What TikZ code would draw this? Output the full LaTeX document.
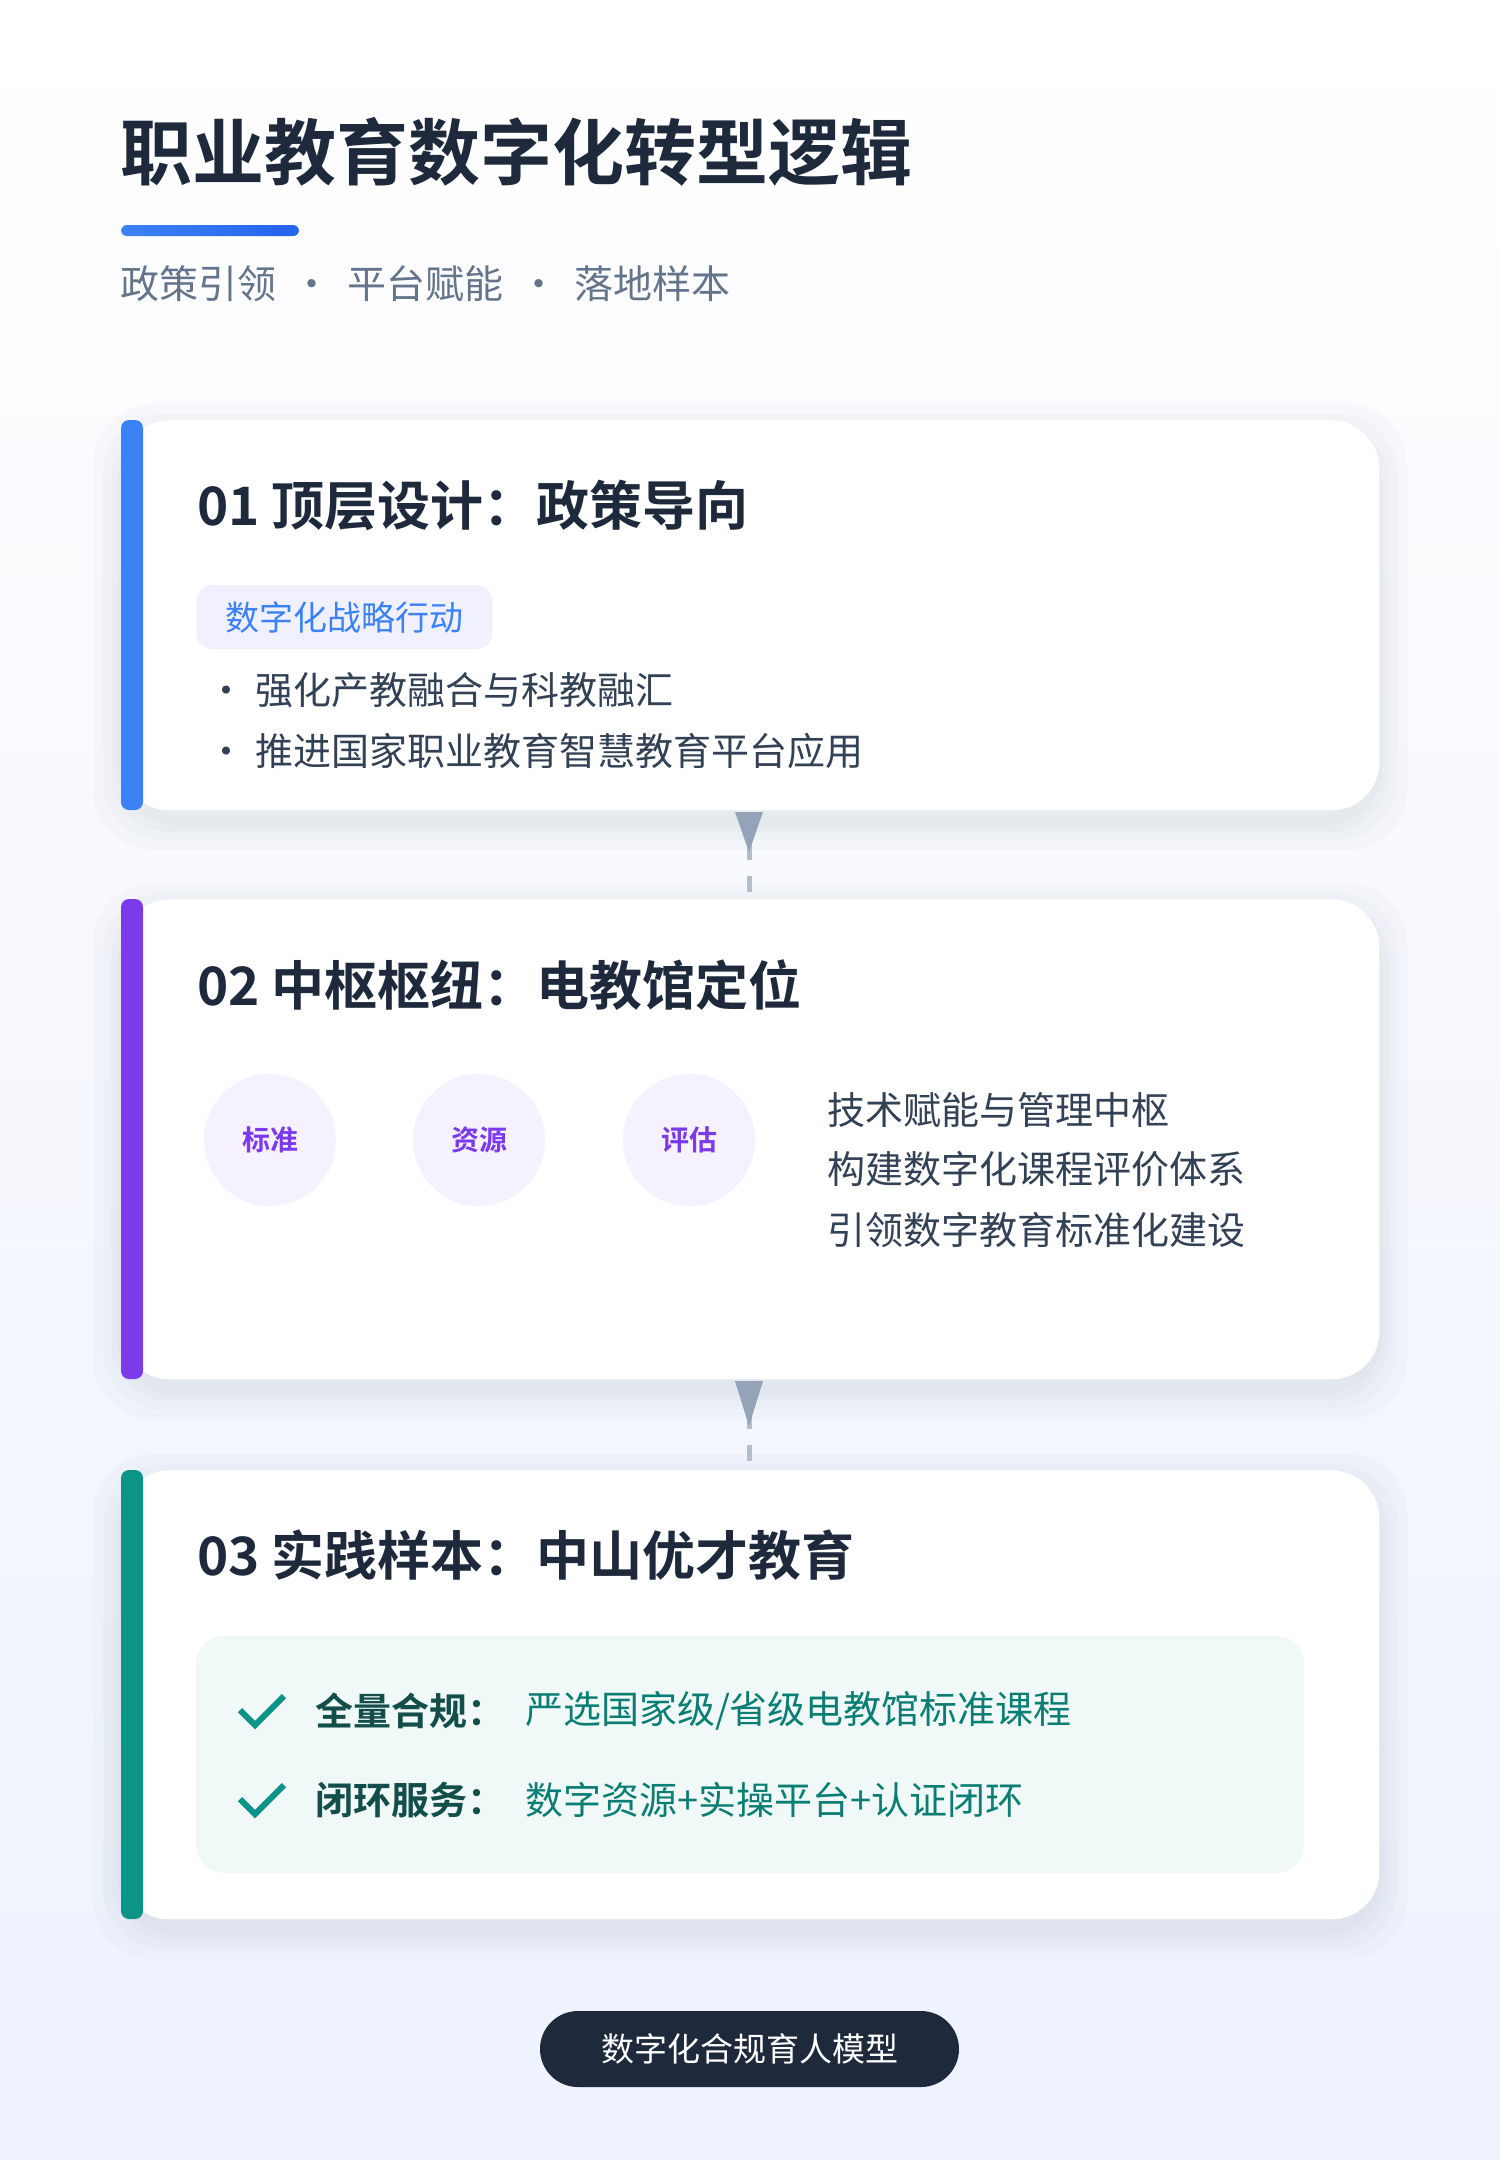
\documentclass[tikz,border=0pt]{standalone}
\usepackage{fontspec}
\setmainfont{Noto Sans CJK SC}
\newfontfamily\cjkb{Noto Sans CJK SC Bold}
\definecolor{ink}{HTML}{1E293B}
\definecolor{gray1}{HTML}{64748B}
\definecolor{txt}{HTML}{334155}
\definecolor{blue1}{HTML}{3B82F6}
\definecolor{blue2}{HTML}{2563EB}
\definecolor{purp}{HTML}{7C3AED}
\definecolor{teal1}{HTML}{0D9488}
\definecolor{tealdk}{HTML}{134E4A}
\definecolor{arr}{HTML}{94A3B8}
\definecolor{bgb}{HTML}{EEF2FD}
\tikzset{
 card/.style={fill=white,rounded corners=24pt},
 shd/.style={fill=ink,opacity=0.018},
 ctitle/.style={anchor=west,font=\cjkb\fontsize{26.5}{30}\selectfont,text=ink},
 body/.style={anchor=west,font=\fontsize{19}{22}\selectfont,text=txt},
 circ/.style={circle,fill=purp!7,minimum size=66pt,font=\cjkb\fontsize{14}{16}\selectfont,text=purp},
}
\begin{document}
\begin{tikzpicture}[x=0.5pt,y=-0.5pt]
\shade[top color=white,bottom color=bgb] (0,0) rectangle (1500,2160);
\useasboundingbox (0,0) rectangle (1500,2160);
% title
\node[anchor=west,font=\cjkb\fontsize{36}{40}\selectfont,text=ink] (title) at (113,152) {职业教育数字化转型逻辑};
\shade[left color=blue1,right color=blue2,rounded corners=3pt] (121,225) rectangle (299,236);
\node[anchor=west,font=\fontsize{19.5}{22}\selectfont,text=gray1] (sub) at (113,284) {政策引领\hspace{8pt}·\hspace{8pt}平台赋能\hspace{8pt}·\hspace{8pt}落地样本};
% shadows
\foreach \t/\b in {420/810,899/1379,1470/1919}{
  \foreach \d in {4,10,18,28}{
    \fill[shd,rounded corners=30pt] (121-\d,\t-\d+12) rectangle (1379+\d,\b+\d+12);
  }
}
% card 1
\node[card,minimum width=629pt,minimum height=195pt,anchor=north west] (c1) at (121,420) {};
\fill[blue1,rounded corners=4pt] (121,420) rectangle (143,810);
\node[ctitle] (t1) at (190,505) {01 顶层设计：政策导向};
\node[fill=blue!6,rounded corners=8pt,minimum width=148pt,minimum height=32pt,font=\fontsize{17}{20}\selectfont,text=blue1] (tag) at (344.5,617) {数字化战略行动};
\node[body] (b1) at (200,690) {•\hspace{5pt}强化产教融合与科教融汇};
\node[body] (b2) at (200,751) {•\hspace{5pt}推进国家职业教育智慧教育平台应用};
% arrow 1
\coordinate (a1) at (749,812);
\coordinate (a1e) at (749,899);
\draw[arr!70,line width=2.5pt,dash pattern=on 8pt off 8pt] (a1) -- (a1e);
\fill[arr] (735,812) -- (763,812) -- (749,852) -- cycle;
% card 2
\node[card,minimum width=629pt,minimum height=240pt,anchor=north west] (c2) at (121,899) {};
\fill[purp,rounded corners=4pt] (121,899) rectangle (143,1379);
\node[ctitle] (t2) at (190,985) {02 中枢枢纽：电教馆定位};
\node[circ] (k1) at (270,1140) {标准};
\node[circ] (k2) at (479,1140) {资源};
\node[circ] (k3) at (689,1140) {评估};
\node[body] (r1) at (820,1110) {技术赋能与管理中枢};
\node[body] (r2) at (820,1169) {构建数字化课程评价体系};
\node[body] (r3) at (820,1230) {引领数字教育标准化建设};
% arrow 2
\coordinate (a2) at (749,1381);
\coordinate (a2e) at (749,1470);
\draw[arr!70,line width=2.5pt,dash pattern=on 8pt off 8pt] (a2) -- (a2e);
\fill[arr] (735,1381) -- (763,1381) -- (749,1426) -- cycle;
% card 3
\node[card,minimum width=629pt,minimum height=224.5pt,anchor=north west] (c3) at (121,1470) {};
\fill[teal1,rounded corners=4pt] (121,1470) rectangle (143,1919);
\node[ctitle] (t3) at (190,1555) {03 实践样本：中山优才教育};
\fill[teal1!6,rounded corners=14pt] (196,1636) rectangle (1304,1873);
\draw[teal1,line width=3pt] (240,1710) -- (255,1725) -- (284,1696);
\node[anchor=west,font=\cjkb\fontsize{19}{22}\selectfont,text=tealdk] (l1) at (308,1711) {全量合规：};
\node[anchor=west,font=\fontsize{19}{22}\selectfont,text=teal1!85!black] (v1) at (518,1711) {严选国家级/省级电教馆标准课程};
\draw[teal1,line width=3pt] (240,1799) -- (255,1814) -- (284,1785);
\node[anchor=west,font=\cjkb\fontsize{19}{22}\selectfont,text=tealdk] (l2) at (308,1800) {闭环服务：};
\node[anchor=west,font=\fontsize{19}{22}\selectfont,text=teal1!85!black] (v2) at (518,1800) {数字资源+实操平台+认证闭环};
% pill
\node[fill=ink,rounded corners=19pt,minimum width=209.5pt,minimum height=38pt,font=\fontsize{16.5}{20}\selectfont,text=white] (pill) at (749.5,2049) {数字化合规育人模型};
\end{tikzpicture}
\end{document}
